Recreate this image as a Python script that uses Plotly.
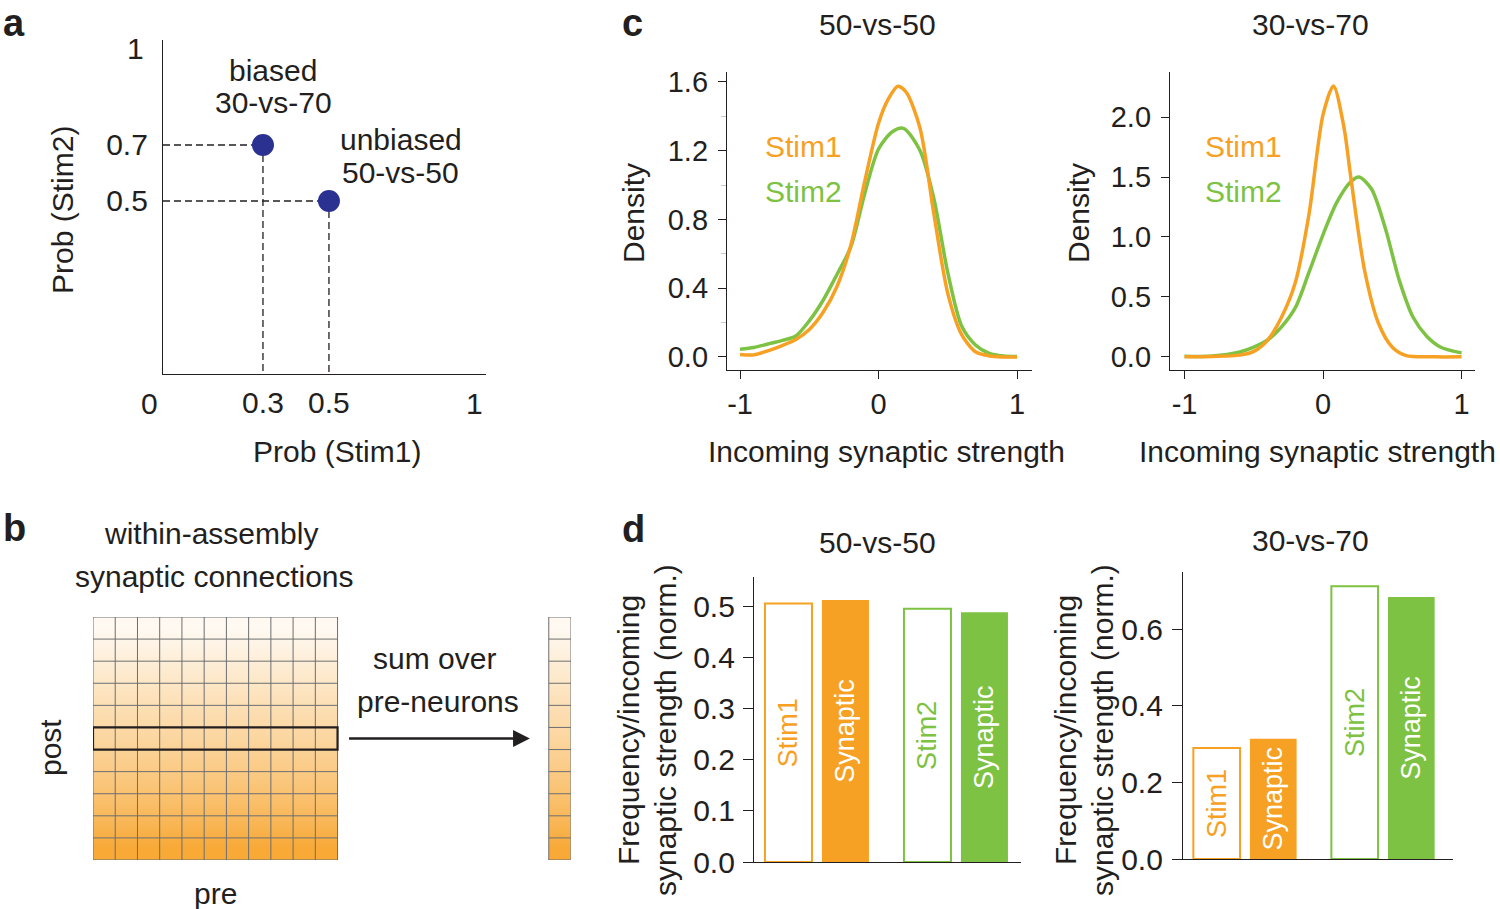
import plotly.graph_objects as go

W, H = 1500, 909
FONT = "Liberation Sans, Arial, sans-serif"
INK = "#231F20"
ORANGE = "#F7A124"
GREEN = "#7DC242"
NAVY = "#2B3190"

# ---- panel a: stimulus probabilities
prob_stim1 = [0.3, 0.5]
prob_stim2 = [0.7, 0.5]
a_xticks = [0.3, 0.5]
a_yticks = [0.5, 0.7]

# ---- panel b: connection matrix shading (top row -> bottom row)
row_levels = [0.06, 0.14, 0.22, 0.30, 0.37, 0.44, 0.52, 0.61, 0.70, 0.80, 0.92]
n_pre = 11
hl_row = 5

# ---- panel c: density curves
c1_x_stim1 = [-1, -0.9, -0.8, -0.7, -0.6, -0.5, -0.4, -0.3, -0.2, -0.1, 0, 0.07, 0.14, 0.2, 0.3, 0.4, 0.5, 0.6, 0.7, 0.8, 0.9, 1.0]
c1_y_stim1 = [0.014, 0.012, 0.035, 0.065, 0.10, 0.16, 0.26, 0.41, 0.65, 1.02, 1.36, 1.50, 1.575, 1.54, 1.33, 0.83, 0.37, 0.13, 0.03, 0.006, 0.0, 0.0]
c1_x_stim2 = [-1, -0.9, -0.8, -0.7, -0.6, -0.5, -0.4, -0.3, -0.2, -0.1, 0, 0.1, 0.18, 0.3, 0.4, 0.5, 0.6, 0.7, 0.8, 0.9, 1.0]
c1_y_stim2 = [0.045, 0.055, 0.075, 0.095, 0.12, 0.21, 0.33, 0.48, 0.64, 0.95, 1.21, 1.31, 1.33, 1.20, 0.92, 0.49, 0.18, 0.07, 0.02, 0.005, 0.002]

c2_x_stim1 = [-1, -0.8, -0.6, -0.5, -0.4, -0.3, -0.2, -0.1, 0, 0.075, 0.15, 0.2, 0.3, 0.4, 0.5, 0.6, 0.8, 1.0]
c2_y_stim1 = [0.0, 0.003, 0.014, 0.045, 0.14, 0.33, 0.62, 1.2, 2.02, 2.26, 1.92, 1.5, 0.72, 0.28, 0.08, 0.01, 0.0, 0.0]
c2_x_stim2 = [-1, -0.8, -0.6, -0.5, -0.4, -0.3, -0.2, -0.1, 0, 0.1, 0.2, 0.26, 0.35, 0.45, 0.55, 0.65, 0.75, 0.85, 1.0]
c2_y_stim2 = [0.005, 0.006, 0.04, 0.08, 0.14, 0.25, 0.41, 0.71, 1.02, 1.29, 1.46, 1.50, 1.40, 1.07, 0.64, 0.33, 0.17, 0.08, 0.033]

# ---- panel d: frequency vs incoming synaptic strength
d_groups = ["Stim1", "Stim2"]
d1_freq = [0.505, 0.495]
d1_syn = [0.512, 0.488]
d2_freq = [0.29, 0.712]
d2_syn = [0.314, 0.684]


def dom_x(a, b):
    return [a / W, b / W]


def dom_y(top, bottom):
    return [1 - bottom / H, 1 - top / H]


fig = go.Figure()

# a
a_y0 = -0.118
a_x0, a_x1 = -0.003, 0.976
for sx, sy in zip(prob_stim1, prob_stim2):
    fig.add_trace(go.Scatter(x=[a_x0, sx, sx], y=[sy, sy, a_y0], mode="lines",
                             line=dict(color=INK, width=1.3, dash="7px,4px"),
                             xaxis="x", yaxis="y", hoverinfo="skip"))
fig.add_trace(go.Scatter(x=prob_stim1, y=prob_stim2, mode="markers",
                         marker=dict(color=NAVY, size=22), xaxis="x", yaxis="y"))

# b
cmap = [[0, "#FFFFFF"], [1, ORANGE]]
fig.add_trace(go.Heatmap(z=[[lv] * n_pre for lv in row_levels], x=list(range(n_pre)),
                         y=list(range(len(row_levels))), colorscale=cmap, zmin=0, zmax=1,
                         zsmooth="best", showscale=False, xaxis="x2", yaxis="y2", hoverinfo="skip"))
vec_x = 20
fig.add_trace(go.Heatmap(z=[[lv, lv] for lv in row_levels], x=[vec_x, vec_x + 0.5, vec_x + 1],
                         y=list(range(len(row_levels))), colorscale=cmap, zmin=0, zmax=1,
                         zsmooth="best", showscale=False, xaxis="x2", yaxis="y2", hoverinfo="skip"))
gx, gy = [], []
n_rows = len(row_levels)
for i in range(n_pre + 1):
    gx += [i - 0.5, i - 0.5, None]
    gy += [-0.5, n_rows - 0.5, None]
for j in range(n_rows + 1):
    gx += [-0.5, n_pre - 0.5, None]
    gy += [j - 0.5, j - 0.5, None]
    gx += [vec_x, vec_x + 1, None]
    gy += [j - 0.5, j - 0.5, None]
for v in (vec_x, vec_x + 1):
    gx += [v, v, None]
    gy += [-0.5, n_rows - 0.5, None]
fig.add_trace(go.Scatter(x=gx, y=gy, mode="lines", line=dict(color="#6D6E71", width=1),
                         xaxis="x2", yaxis="y2", hoverinfo="skip"))
fig.add_trace(go.Scatter(x=[-0.5, n_pre - 0.5, n_pre - 0.5, -0.5, -0.5],
                         y=[hl_row - 0.5, hl_row - 0.5, hl_row + 0.5, hl_row + 0.5, hl_row - 0.5],
                         mode="lines", line=dict(color=INK, width=2.2),
                         xaxis="x2", yaxis="y2", hoverinfo="skip"))

# c
for xs, ys, col, ax in [(c1_x_stim2, c1_y_stim2, GREEN, "3"), (c1_x_stim1, c1_y_stim1, ORANGE, "3"),
                        (c2_x_stim2, c2_y_stim2, GREEN, "4"), (c2_x_stim1, c2_y_stim1, ORANGE, "4")]:
    fig.add_trace(go.Scatter(x=xs, y=ys, mode="lines",
                             line=dict(color=col, width=3.5, shape="spline", smoothing=0.8),
                             xaxis="x" + ax, yaxis="y" + ax))

# d
for freq, syn, ax in [(d1_freq, d1_syn, "5"), (d2_freq, d2_syn, "6")]:
    fig.add_trace(go.Bar(x=d_groups, y=freq, text=d_groups, textposition="inside",
                         textangle=-90, insidetextanchor="middle",
                         textfont=dict(color=[ORANGE, GREEN], size=27, family=FONT),
                         marker=dict(color="white", line=dict(color=[ORANGE, GREEN], width=2)),
                         xaxis="x" + ax, yaxis="y" + ax))
    fig.add_trace(go.Bar(x=d_groups, y=syn, text=["Synaptic"] * len(d_groups), textposition="inside",
                         textangle=-90, insidetextanchor="middle",
                         textfont=dict(color="white", size=27, family=FONT),
                         marker=dict(color=[ORANGE, GREEN], line=dict(width=0)),
                         xaxis="x" + ax, yaxis="y" + ax))

base = dict(showgrid=False, zeroline=False, linecolor=INK, linewidth=1.3, tickcolor=INK,
            tickwidth=1.3, tickfont=dict(size=30, color=INK, family=FONT), showline=True,
            automargin=False)
ctick = dict(size=29, color=INK, family=FONT)

layout_axes = dict(
    xaxis=dict(base, domain=dom_x(163, 486), range=[a_x0, a_x1], anchor="y", ticks="",
               tickvals=a_xticks, tickformat=".1f", ticklabelstandoff=2),
    yaxis=dict(base, domain=dom_y(40, 374), range=[a_y0, 1.075], anchor="x", ticks="",
               tickvals=a_yticks, tickformat=".1f", ticklabelstandoff=8),
    xaxis2=dict(domain=dom_x(93, 571), range=[-0.5, 21.0], visible=False, anchor="y2",
                automargin=False),
    yaxis2=dict(domain=dom_y(617, 860), range=[10.5, -0.5], visible=False, anchor="x2",
                automargin=False),
    xaxis3=dict(base, domain=dom_x(727, 1032), range=[-1.094, 1.108], anchor="y3", ticks="outside",
                ticklen=8, tickvals=[-1, 0, 1], ticktext=["-1", "0", "1"], ticklabelstandoff=0,
                tickfont=ctick),
    yaxis3=dict(base, domain=dom_y(72, 370), range=[-0.076, 1.658], anchor="x3", ticks="outside",
                ticklen=8, tickvals=[0, 0.4, 0.8, 1.2, 1.6], tickformat=".1f", ticklabelstandoff=4,
                tickfont=ctick,
                minor=dict(ticks="outside", dtick=0.2, tick0=0, ticklen=5, tickcolor="#C8C8C8")),
    xaxis4=dict(base, domain=dom_x(1170, 1475), range=[-1.105, 1.097], anchor="y4", ticks="outside",
                ticklen=8, tickvals=[-1, 0, 1], ticktext=["-1", "0", "1"], ticklabelstandoff=0,
                tickfont=ctick),
    yaxis4=dict(base, domain=dom_y(72, 370), range=[-0.11, 2.376], anchor="x4", ticks="outside",
                ticklen=8, tickvals=[0, 0.5, 1.0, 1.5, 2.0], tickformat=".1f", ticklabelstandoff=4,
                tickfont=ctick),
    xaxis5=dict(base, domain=dom_x(754, 1021), range=[-0.453, 1.468], anchor="y5", ticks="",
                showticklabels=False, type="category"),
    yaxis5=dict(base, domain=dom_y(577, 862), range=[0, 0.557], anchor="x5", ticks="outside",
                ticklen=10, tickvals=[0, 0.1, 0.2, 0.3, 0.4, 0.5], tickformat=".1f", ticklabelstandoff=2),
    xaxis6=dict(base, domain=dom_x(1183, 1453), range=[-0.449, 1.507], anchor="y6", ticks="",
                showticklabels=False, type="category"),
    yaxis6=dict(base, domain=dom_y(572, 859), range=[0, 0.749], anchor="x6", ticks="outside",
                ticklen=10, tickvals=[0, 0.2, 0.4, 0.6], tickformat=".1f", ticklabelstandoff=3),
)


def label(text, x, y, size=30, color=INK, angle=0, xanchor="center", bold=False):
    return dict(text="<b>%s</b>" % text if bold else text, x=x / W, y=1 - y / H,
                xref="paper", yref="paper", showarrow=False, textangle=angle,
                xanchor=xanchor, yanchor="middle",
                font=dict(size=size, color=color, family=FONT))


def end_tick(text, x, y, xshift=0, yshift=0):
    # axis-end tick labels of panel a sit a little off the ends
    return dict(text=text, x=x, y=y, xref="x", yref="y", showarrow=False,
                xshift=xshift, yshift=yshift, font=dict(size=30, color=INK, family=FONT))


annotations = [
    label("a", 1, 23, size=38, xanchor="left", bold=True),
    label("b", 1, 528, size=38, xanchor="left", bold=True),
    label("c", 620, 23, size=38, xanchor="left", bold=True),
    label("d", 620, 529, size=38, xanchor="left", bold=True),
    # a
    end_tick("0", 0, a_y0, xshift=-14, yshift=-29),
    end_tick("1", a_x1, a_y0, xshift=-12, yshift=-29),
    end_tick("1", a_x0, 1, xshift=-28, yshift=13),
    label("biased", 273, 70),
    label("30-vs-70", 273, 102),
    label("unbiased", 401, 139),
    label("50-vs-50", 401, 172),
    label("Prob (Stim1)", 337, 451),
    label("Prob (Stim2)", 62, 210, angle=-90),
    # b
    label("within-assembly", 211, 533),
    label("synaptic connections", 214, 576),
    label("sum over", 434, 658),
    label("pre-neurons", 438, 701),
    label("post", 50, 748, angle=-90),
    label("pre", 215, 893),
    dict(x=19.15, y=hl_row, ax=10.95, ay=hl_row, xref="x2", yref="y2", axref="x2", ayref="y2",
         showarrow=True, text="", arrowhead=2, arrowsize=1.4, arrowwidth=2.4, arrowcolor=INK),
    # c
    label("50-vs-50", 877, 25),
    label("30-vs-70", 1310, 25),
    label("Density", 633, 213, angle=-90),
    label("Density", 1078, 213, angle=-90),
    label("Incoming synaptic strength", 886, 451),
    label("Incoming synaptic strength", 1317, 451),
    label("Stim1", 763, 147, color=ORANGE, xanchor="left"),
    label("Stim2", 763, 191, color=GREEN, xanchor="left"),
    label("Stim1", 1203, 147, color=ORANGE, xanchor="left"),
    label("Stim2", 1203, 191, color=GREEN, xanchor="left"),
    # d
    label("50-vs-50", 877, 542),
    label("30-vs-70", 1310, 540),
    label("Frequency/incoming", 628, 730, angle=-90),
    label("synaptic strength (norm.)", 665, 730, angle=-90),
    label("Frequency/incoming", 1065, 730, angle=-90),
    label("synaptic strength (norm.)", 1102, 730, angle=-90),
]

fig.update_layout(margin=dict(l=0, r=0, t=0, b=0),
                  paper_bgcolor="white", plot_bgcolor="white", showlegend=False,
                  font=dict(family=FONT, color=INK), barmode="group",
                  bargap=0.18, bargroupgap=0.175, annotations=annotations, **layout_axes)

# fixed-position plot div so the page body margin does not shift the figure
fig.write_html("out.html", config={"displayModeBar": False},
               default_width="%dpx" % W,
               default_height="%dpx; position:fixed; top:0; left:0" % H)
